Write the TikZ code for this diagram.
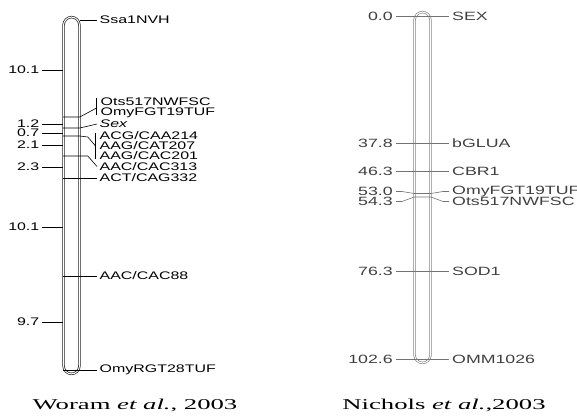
\documentclass[tikz,border=0pt]{standalone}
\usepackage{fontspec}
\newfontfamily\lblfont[FakeStretch=1.45]{Liberation Sans}
\newfontfamily\rlblfont[FakeStretch=1.48]{Liberation Sans}
\newfontfamily\capfont[FakeStretch=1.78]{Liberation Serif}

\begin{document}
\begin{tikzpicture}[x=1pt,y=-1pt,
  chrom/.style={draw=#1,double=white,double distance=1.1pt,line width=0.6pt,
    rounded corners=8.4pt,minimum width=16pt,inner sep=0pt},
  lbl/.style={font=\lblfont\fontsize{11}{12}\selectfont,inner ysep=0pt,inner xsep=2.5pt,anchor=west},
  num/.style={lbl,anchor=east},
  rlbl/.style={font=\rlblfont\fontsize{12}{13}\selectfont,text=black!75,inner ysep=0pt,inner xsep=3pt,anchor=west},
  rnum/.style={rlbl,anchor=east},
  rline/.style={draw=black!55,line width=0.6pt},
  caption/.style={font=\capfont\fontsize{15}{17}\selectfont,inner sep=1pt,anchor=base}]
  \useasboundingbox (0,0) rectangle (577,416);
  \clip (0,0) rectangle (577,416);

  % Woram et al. map
  \node[chrom=black,minimum height=357pt] (wc) at (71.5,195.5) {};

  \node[lbl] (ssa) at (97,20) {Ssa1NVH};
  \node[lbl] (ots) at (98,102) {Ots517NWFSC};
  \node[lbl] (fgt) at (98,113) {OmyFGT19TUF};
  \node[lbl] (sex) at (97,124) {\itshape Sex};
  \node[lbl] (acg) at (97,136) {ACG/CAA214};
  \node[lbl] (cat) at (97,146) {AAG/CAT207};
  \node[lbl] (cac) at (97,156) {AAG/CAC201};
  \node[lbl] (aac) at (97,166.5) {AAC/CAC313};
  \node[lbl] (act) at (97,178) {ACT/CAG332};
  \node[lbl] (c88) at (97,276) {AAC/CAC88};
  \node[lbl] (rgt) at (97,370) {OmyRGT28TUF};

  \node[num] (d1) at (42,70) {10.1};
  \node[num] (d2) at (42,124) {1.2};
  \node[num] (d3) at (42,133) {0.7};
  \node[num] (d4) at (42,145) {2.1};
  \node[num] (d5) at (42,167) {2.3};
  \node[num] (d6) at (42,227) {10.1};
  \node[num] (d7) at (42,322) {9.7};

  \coordinate (k1) at (0,117);
  \coordinate (k2) at (0,128);
  \coordinate (k3) at (0,136);
  \coordinate (k4) at (0,156);
  \coordinate (b1) at (96.5,108);
  \coordinate (b2) at (95.5,146);

  \draw[line width=0.6pt] (wc.east |- ssa) -- (ssa);
  \draw[line width=0.6pt] (wc.west |- k1) -- (wc.east |- k1) -- (b1);
  \draw[line width=0.6pt] (wc.west |- k2) -- (wc.east |- k2) -- (sex.west);
  \draw[line width=0.6pt] (wc.west |- k3) -- (wc.east |- k3) -- ++(8,1) -- (b2);
  \draw[line width=0.6pt] (wc.west |- k4) -- (wc.east |- k4) -- ++(8,0) -- (aac.west);
  \draw[line width=0.6pt] (wc.west |- act) -- (act);
  \draw[line width=0.6pt] (wc.west |- c88) -- (c88);
  \draw[line width=0.6pt] (wc.west |- rgt) -- (rgt);
  \draw[line width=0.8pt] (96.5,98) -- (96.5,115);
  \draw[line width=0.8pt] (95.5,133) -- (95.5,159);

  \foreach \d in {d1,d2,d3,d4,d5,d6,d7}
    \draw[line width=0.6pt] (\d) -- (\d -| wc.west);

  % Nichols et al. map
  \node[chrom=black!55,minimum height=351pt] (nc) at (422.5,187.5) {};

  \node[rnum] (r1) at (396,16) {0.0};
  \node[rnum] (r2) at (396,143) {37.8};
  \node[rnum] (r3) at (396,171) {46.3};
  \node[rnum] (r4) at (396,191.5) {53.0};
  \node[rnum] (r5) at (396,201.5) {54.3};
  \node[rnum] (r6) at (396,271) {76.3};
  \node[rnum] (r7) at (396,359) {102.6};

  \node[rlbl] (s1) at (449,16) {SEX};
  \node[rlbl] (s2) at (449,143) {bGLUA};
  \node[rlbl] (s3) at (449,171) {CBR1};
  \node[rlbl] (s4) at (449,191.5) {OmyFGT19TUF};
  \node[rlbl] (s5) at (449,201.5) {Ots517NWFSC};
  \node[rlbl] (s6) at (449,271) {SOD1};
  \node[rlbl] (s7) at (449,359) {OMM1026};

  \coordinate (m4) at (0,193.5);
  \coordinate (m5) at (0,197);

  \draw[rline] (r1) -- (s1);
  \draw[rline] (r2) -- (s2);
  \draw[rline] (r3) -- (s3);
  \draw[rline] (r6) -- (s6);
  \draw[rline] (r7) -- (s7);
  \draw[rline] (r4.east) -- ++(6,0) -- (nc.west |- m4) -- (nc.east |- m4) -- ([xshift=-6pt]s4.west) -- (s4);
  \draw[rline] (r5.east) -- ++(6,0) -- (nc.west |- m5) -- (nc.east |- m5) -- ([xshift=-6pt]s5.west) -- (s5);

  % captions
  \node[caption] (cw) at (135,409) {Woram \textit{et al.}, 2003};
  \node[caption] (cn) at (444,409) {Nichols \textit{et al.},2003};
\end{tikzpicture}
\end{document}
